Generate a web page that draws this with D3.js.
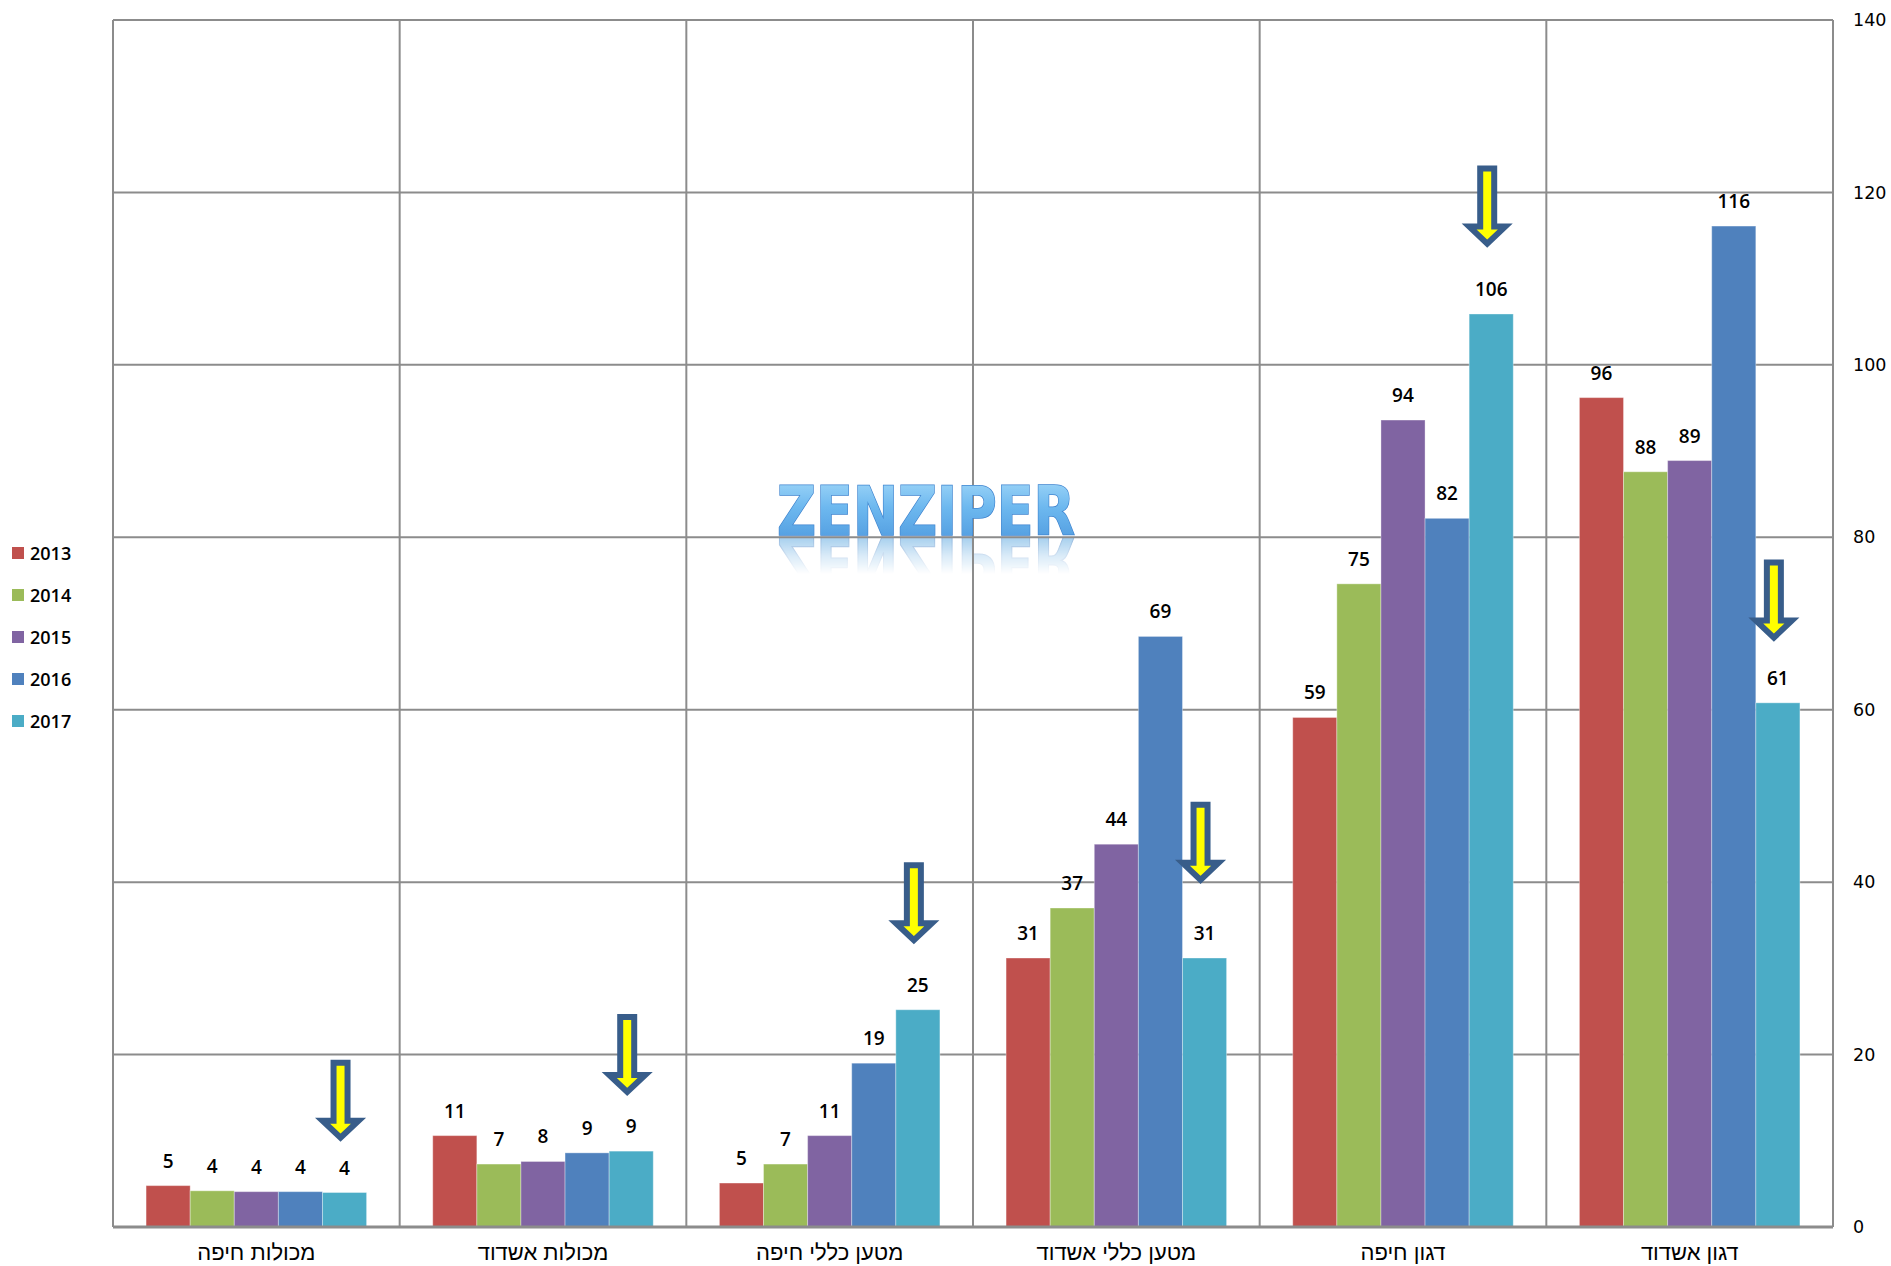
<!DOCTYPE html>
<html>
<head>
<meta charset="utf-8">
<script src="https://cdn.jsdelivr.net/npm/d3@7"></script>
<style>
  html, body { margin: 0; padding: 0; background: #fff; }
  svg { display: block; }
</style>
</head>
<body>
<svg id="chart" width="1891" height="1266"></svg>
<script>
// ---------- data ----------
const categories = ["מכולות חיפה", "מכולות אשדוד", "מטען כללי חיפה", "מטען כללי אשדוד", "דגון חיפה", "דגון אשדוד"];
const years = ["2013", "2014", "2015", "2016", "2017"];
const v2013 = [4.8, 10.6, 5.1, 31.2, 59.1, 96.2];
const v2014 = [4.2, 7.3, 7.3, 37.0, 74.6, 87.6];
const v2015 = [4.1, 7.6, 10.6, 44.4, 93.6, 88.9];
const v2016 = [4.1, 8.6, 19.0, 68.5, 82.2, 116.1];
const v2017 = [4.0, 8.8, 25.2, 31.2, 105.9, 60.8];
const yTicks = [0, 20, 40, 60, 80, 100, 120, 140];
const colors = ["#c0504d", "#9bbb59", "#8064a2", "#4f81bd", "#4bacc6"];
// annotation arrows (tip value, in chart units) above the 2017 bar of each category
const arrowTips = [9.9, 15.2, 32.8, 39.8, 113.6, 67.9];
const watermark = "ZENZIPER";

const seriesValues = [v2013, v2014, v2015, v2016, v2017];
const rows = categories.map((c, i) => ({
  cat: c,
  vals: years.map((y, j) => ({ year: y, value: seriesValues[j][i], color: colors[j] }))
}));

// ---------- layout ----------
const svg = d3.select("#chart");
const L = 113, R = 1833, T = 20, B = 1227;

const x0 = d3.scaleBand().domain(categories).range([L, R]).padding(0);
const x1 = d3.scaleBand().domain(years).range([0, x0.bandwidth()]).paddingInner(0).paddingOuter(0.75);
const y = d3.scaleLinear().domain([0, 140]).range([B, T]);

const grid = "#8c8c8c";
const wmX = 926, wmBase = 535;

// defs
const defs = svg.append("defs");
const g1 = defs.append("linearGradient").attr("id", "wmFill").attr("x1", 0).attr("y1", 0).attr("x2", 0).attr("y2", 1);
g1.append("stop").attr("offset", "0%").attr("stop-color", "#a9dcfa");
g1.append("stop").attr("offset", "45%").attr("stop-color", "#6db8ef");
g1.append("stop").attr("offset", "100%").attr("stop-color", "#4a95dc");
const g2 = defs.append("linearGradient").attr("id", "wmFade").attr("x1", 0).attr("y1", 0).attr("x2", 0).attr("y2", 1);
g2.append("stop").attr("offset", "0%").attr("stop-color", "#fff").attr("stop-opacity", 0.7);
g2.append("stop").attr("offset", "50%").attr("stop-color", "#fff").attr("stop-opacity", 0.3);
g2.append("stop").attr("offset", "100%").attr("stop-color", "#fff").attr("stop-opacity", 0);
const mask = defs.append("mask").attr("id", "wmMask").attr("maskUnits", "userSpaceOnUse")
  .attr("x", 700).attr("y", wmBase).attr("width", 450).attr("height", 60);
mask.append("rect").attr("x", 700).attr("y", wmBase + 1).attr("width", 450).attr("height", 38).attr("fill", "url(#wmFade)");

const wm = svg.append("g");
// reflection
wm.append("g").attr("mask", "url(#wmMask)")
  .append("text")
  .attr("transform", `translate(0,${2 * wmBase + 2}) scale(1,-1)`)
  .attr("x", wmX).attr("y", wmBase)
  .attr("text-anchor", "middle")
  .attr("font-family", "DejaVu Sans, sans-serif").attr("font-weight", "bold").attr("font-size", 68)
  .attr("textLength", 298).attr("lengthAdjust", "spacingAndGlyphs")
  .attr("fill", "#7bb8e6").attr("stroke", "#5d95cf").attr("stroke-width", 1.2)
  .text(watermark);

// gridlines
const gridG = svg.append("g");
gridG.selectAll("line.h").data(yTicks).join("line")
  .attr("x1", L).attr("x2", R)
  .attr("y1", d => y(d)).attr("y2", d => y(d))
  .attr("stroke", grid).attr("stroke-width", 2);
const vlines = categories.map(c => x0(c)).concat([R]);
gridG.selectAll("line.v").data(vlines).join("line")
  .attr("x1", d => d).attr("x2", d => d)
  .attr("y1", T).attr("y2", B)
  .attr("stroke", grid).attr("stroke-width", 2);

// main watermark text
const wm2 = svg.append("g");
wm2.append("text")
  .attr("x", wmX).attr("y", wmBase)
  .attr("text-anchor", "middle")
  .attr("font-family", "DejaVu Sans, sans-serif").attr("font-weight", "bold").attr("font-size", 68)
  .attr("textLength", 298).attr("lengthAdjust", "spacingAndGlyphs")
  .attr("fill", "url(#wmFill)").attr("stroke", "#3f84cf").attr("stroke-width", 1.6)
  .attr("paint-order", "stroke")
  .text(watermark);

// bars
const groups = svg.append("g").selectAll("g").data(rows).join("g")
  .attr("transform", d => `translate(${x0(d.cat)},0)`);
groups.selectAll("rect").data(d => d.vals).join("rect")
  .attr("x", d => x1(d.year))
  .attr("y", d => y(d.value))
  .attr("width", x1.bandwidth())
  .attr("height", d => B - y(d.value))
  .attr("fill", d => d.color)
  .attr("stroke", "rgba(255,255,255,0.35)").attr("stroke-width", 1);

// value labels
groups.selectAll("text").data(d => d.vals).join("text")
  .attr("x", d => x1(d.year) + x1.bandwidth() / 2)
  .attr("y", d => y(d.value) - 18)
  .attr("text-anchor", "middle")
  .attr("font-family", "Open Sans, sans-serif").attr("font-weight", 600).attr("font-size", 19)
  .attr("fill", "#000")
  .text(d => Math.round(d.value));

// bottom axis line
svg.append("line").attr("x1", L).attr("x2", R).attr("y1", B).attr("y2", B)
  .attr("stroke", grid).attr("stroke-width", 3);

// right axis
const yAxis = d3.axisRight(y).tickValues(yTicks).tickSize(0).tickPadding(20);
const ax = svg.append("g").attr("transform", `translate(${R},0)`).call(yAxis);
ax.select(".domain").remove();
ax.selectAll("text")
  .attr("font-family", "DejaVu Sans, sans-serif").attr("font-size", 17.5)
  .attr("fill", "#000");

// category labels
svg.append("g").selectAll("text").data(categories).join("text")
  .attr("x", d => x0(d) + x0.bandwidth() / 2)
  .attr("y", 1252)
  .attr("text-anchor", "middle")
  .attr("dominant-baseline", "central")
  .attr("font-family", "Liberation Sans, Arial, sans-serif").attr("font-size", 22)
  .attr("fill", "#000")
  .attr("direction", "rtl")
  .text(d => d);

// arrows
const arrowPath = (cx, ty) => {
  const p = [
    [cx - 7, ty - 79], [cx + 7, ty - 79], [cx + 7, ty - 21],
    [cx + 18, ty - 21], [cx, ty - 4], [cx - 18, ty - 21], [cx - 7, ty - 21]
  ];
  return "M" + p.map(q => q.join(",")).join("L") + "Z";
};
svg.append("g").selectAll("path").data(categories).join("path")
  .attr("d", (c, i) => arrowPath(x0(c) + x1("2017") + x1.bandwidth() / 2 - 4, y(arrowTips[i])))
  .attr("fill", "#ffff00")
  .attr("stroke", "#385d8a").attr("stroke-width", 6)
  .attr("stroke-linejoin", "miter");

// legend
const leg = svg.append("g").selectAll("g").data(years).join("g")
  .attr("transform", (d, i) => `translate(12,${553 + i * 42})`);
leg.append("rect").attr("x", 0).attr("y", -6).attr("width", 12).attr("height", 12)
  .attr("fill", (d, i) => colors[i]);
leg.append("text").attr("x", 18).attr("y", 0)
  .attr("dominant-baseline", "central")
  .attr("font-family", "Open Sans, sans-serif").attr("font-weight", 600).attr("font-size", 18)
  .attr("fill", "#000")
  .text(d => d);
</script>
</body>
</html>
